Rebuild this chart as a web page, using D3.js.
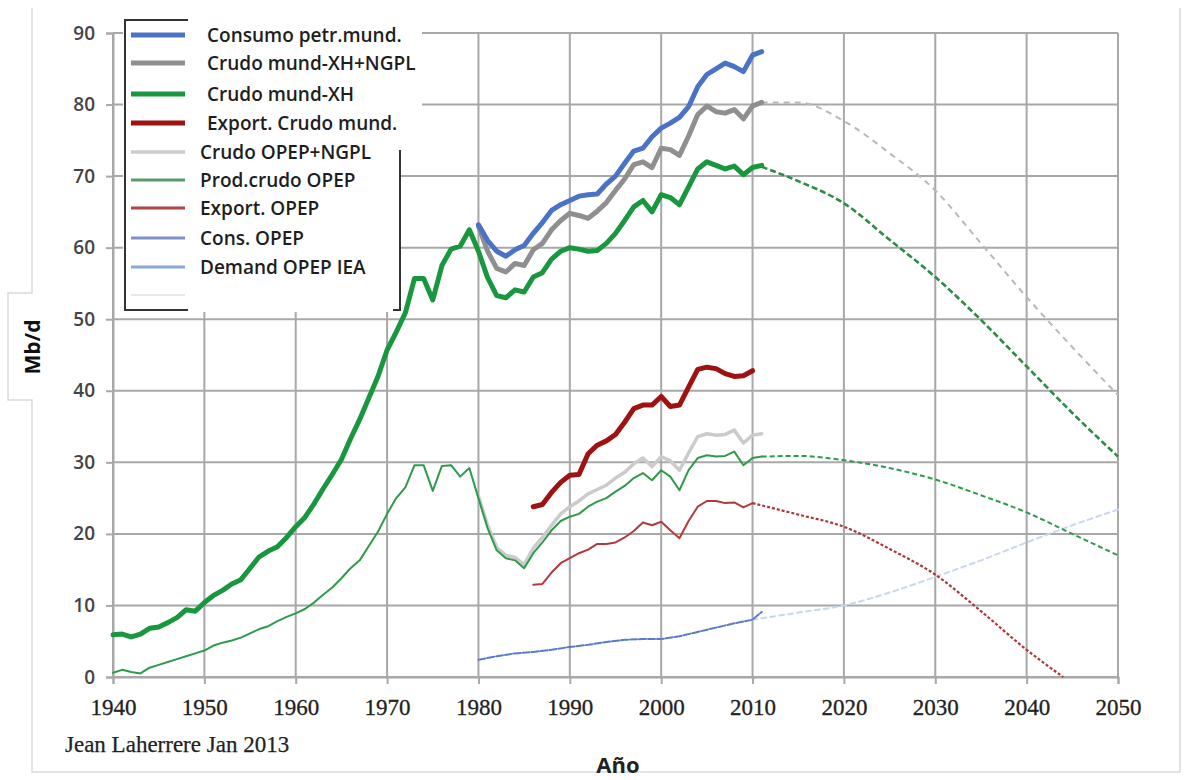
<!DOCTYPE html>
<html><head><meta charset="utf-8">
<script src="https://cdn.jsdelivr.net/npm/d3@7"></script>
<style>
html,body{margin:0;padding:0;background:#fff;}
svg{display:block;}
</style></head>
<body><svg id="c" width="1189" height="780"></svg>
<script>
// ---------- DATA ----------
const xTickYears = [1940,1950,1960,1970,1980,1990,2000,2010,2020,2030,2040,2050];
const yTickValues = [0,10,20,30,40,50,60,70,80,90];

const legendLabels = ["Consumo petr.mund.","Crudo mund-XH+NGPL","Crudo mund-XH","Export. Crudo mund.",
  "Crudo OPEP+NGPL","Prod.crudo OPEP","Export. OPEP","Cons. OPEP","Demand OPEP IEA",""];

const yearsMundXH = [1940,1941,1942,1943,1944,1945,1946,1947,1948,1949,1950,1951,1952,1953,1954,1955,1956,1957,1958,1959,1960,1961,1962,1963,1964,1965,1966,1967,1968,1969,1970,1971,1972,1973,1974,1975,1976,1977,1978,1979,1980,1981,1982,1983,1984,1985,1986,1987,1988,1989,1990,1991,1992,1993,1994,1995,1996,1997,1998,1999,2000,2001,2002,2003,2004,2005,2006,2007,2008,2009,2010,2011];
const valsMundXH = [5.9,6.0,5.6,6.0,6.8,7.0,7.6,8.3,9.4,9.2,10.4,11.4,12.1,13.0,13.6,15.2,16.8,17.6,18.2,19.5,21.0,22.3,24.2,26.3,28.3,30.4,33.3,36.0,39.0,42.0,45.7,48.2,50.9,55.7,55.7,52.7,57.5,59.8,60.2,62.5,59.5,55.8,53.3,53.0,54.1,53.8,55.9,56.5,58.4,59.5,60.0,59.8,59.5,59.6,60.6,62.0,63.8,65.7,66.6,65.0,67.4,67.0,66.0,68.5,71.0,72.0,71.5,71.0,71.4,70.2,71.2,71.5];

const yearsModern = [1980,1981,1982,1983,1984,1985,1986,1987,1988,1989,1990,1991,1992,1993,1994,1995,1996,1997,1998,1999,2000,2001,2002,2003,2004,2005,2006,2007,2008,2009,2010,2011];
const valsConsumo = [63.2,61.0,59.5,58.8,59.7,60.3,62.0,63.5,65.2,66.0,66.6,67.2,67.4,67.5,68.9,70.0,71.8,73.5,73.9,75.5,76.7,77.4,78.2,79.7,82.5,84.2,85.0,85.8,85.3,84.6,86.9,87.4];
const valsMundNGPL = [63.0,59.5,57.1,56.6,57.8,57.5,59.7,60.6,62.5,63.8,64.8,64.5,64.1,65.1,66.3,68.0,69.6,71.6,72.0,71.2,73.9,73.7,72.9,75.6,78.6,79.8,79.0,78.8,79.3,78.0,79.8,80.3];
const valsOpepNGPL = [25.3,21.2,18.1,17.0,16.7,15.7,18.0,19.5,21.2,22.8,23.8,24.6,25.6,26.2,26.8,27.8,28.6,29.8,30.6,29.4,30.8,30.2,28.9,31.3,33.6,34.0,33.8,33.9,34.5,32.7,33.8,34.0];

const yearsExport = [1986,1987,1988,1989,1990,1991,1992,1993,1994,1995,1996,1997,1998,1999,2000,2001,2002,2003,2004,2005,2006,2007,2008,2009,2010];
const valsExportMund = [23.8,24.1,25.8,27.2,28.2,28.3,31.2,32.4,33.0,33.9,35.6,37.5,38.0,38.0,39.2,37.8,38.0,40.5,43.0,43.3,43.1,42.4,42.0,42.1,42.8];
const valsExportOpep = [12.9,13.0,14.6,15.9,16.6,17.3,17.8,18.6,18.6,18.8,19.5,20.4,21.6,21.2,21.7,20.5,19.4,21.8,23.8,24.6,24.6,24.3,24.4,23.7,24.3];

const valsProdOpep = [0.6,1.0,0.7,0.5,1.3,1.7,2.1,2.5,2.9,3.3,3.7,4.4,4.8,5.1,5.5,6.1,6.7,7.1,7.8,8.4,8.9,9.5,10.4,11.5,12.5,13.8,15.2,16.3,18.3,20.3,22.8,25.0,26.5,29.6,29.6,26.0,29.5,29.6,28.0,29.2,25.0,20.8,17.7,16.6,16.3,15.2,17.3,18.8,20.5,21.8,22.4,22.8,23.8,24.5,25.0,25.9,26.7,27.8,28.5,27.5,28.9,28.0,26.1,28.9,30.6,31.0,30.8,30.9,31.5,29.6,30.6,30.8];

const yearsConsOpep = [1980,1982,1984,1986,1988,1990,1992,1994,1996,1998,2000,2002,2004,2006,2008,2010,2011];
const valsConsOpep = [2.4,2.9,3.3,3.5,3.8,4.2,4.5,4.9,5.2,5.3,5.3,5.7,6.3,6.9,7.5,8.0,9.1];

// projections
const yearsProj = [2011,2015,2020,2025,2030,2035,2040,2045,2050];
const projMundNGPL = [80.3,80.3,77.7,73.2,68.0,60.6,53.1,46.1,39.4];
const projMundXH = [71.3,69.3,66.2,61.1,55.9,49.9,43.4,36.9,30.8];
const projProdOpep = [30.8,30.9,30.3,29.2,27.6,25.4,23.0,20.0,17.0];
const yearsProjExport = [2010,2015,2020,2025,2030,2035,2040,2044];
const projExportOpep = [24.3,22.7,21.0,17.9,14.3,9.2,3.8,0];
const yearsDemand = [2010,2015,2020,2025,2030,2035,2040,2045,2050];
const valsDemand = [8.0,9.0,10.0,11.8,14.0,16.3,18.8,21.2,23.4];

// ---------- DRAW ----------
const svg = d3.select("#c");
const X0=113, X1=1118, Y0=677, Y1=33;
const x = d3.scaleLinear().domain([1940,2050]).range([X0,X1]);
const y = d3.scaleLinear().domain([0,90]).range([Y0,Y1]);

svg.append("rect").attr("width",1189).attr("height",780).attr("fill","#fff");

// outer frame with tab for y label
svg.append("path")
  .attr("d","M32,8 L32,293 L8,293 L8,400 L32,400 L32,772 L1180,772 L1180,8")
  .attr("fill","none").attr("stroke","#dadada").attr("stroke-width",1.5);

const gridColor="#a8a8a8";
// grid
svg.append("g").selectAll("line").data(yTickValues).join("line")
  .attr("x1",X0).attr("x2",X1).attr("y1",d=>y(d)).attr("y2",d=>y(d))
  .attr("stroke",gridColor).attr("stroke-width",2);
svg.append("g").selectAll("line").data(xTickYears).join("line")
  .attr("x1",d=>x(d)).attr("x2",d=>x(d)).attr("y1",Y1).attr("y2",Y0)
  .attr("stroke",gridColor).attr("stroke-width",2);

// axes
const axB = svg.append("g").attr("transform",`translate(0,${Y0})`)
  .call(d3.axisBottom(x).tickValues(xTickYears).tickFormat(d3.format("d")).tickSize(7).tickPadding(16));
axB.select(".domain").attr("stroke",gridColor).attr("stroke-width",2);
axB.selectAll(".tick line").attr("stroke",gridColor).attr("stroke-width",2);
axB.selectAll(".tick text").attr("font-family","'Liberation Serif',serif").attr("font-size",23)
  .attr("fill","#222").attr("stroke","#222").attr("stroke-width",0.3).attr("dy","0.72em").attr("y",21);

const axL = svg.append("g").attr("transform",`translate(${X0},0)`)
  .call(d3.axisLeft(y).tickValues(yTickValues).tickSize(7).tickPadding(11));
axL.select(".domain").attr("stroke",gridColor).attr("stroke-width",2);
axL.selectAll(".tick line").attr("stroke",gridColor).attr("stroke-width",2);
axL.selectAll(".tick text").attr("font-family","'Open Sans',sans-serif").attr("font-size",19)
  .attr("font-weight",600).attr("fill","#444").attr("x",-18);

// lines
const line = (xs,vs)=>d3.line().x((d,i)=>x(xs[i])).y(d=>y(d)).curve(d3.curveLinear)(vs);
const smooth = (xs,vs)=>d3.line().x((d,i)=>x(xs[i])).y(d=>y(d)).curve(d3.curveMonotoneX)(vs);

const C = {
  consumo:"#4a72c6", mundNGPL:"#8f8f8f", mundXH:"#18973f", exportMund:"#9e1212",
  opepNGPL:"#cbcbcb", prodOpep:"#2f9a4c", exportOpep:"#b23a3a", consOpep:"#5a7bcc", demand:"#9db8e2"
};

// legend background (drawn under the lines)
const lgBg = svg.append("g");
lgBg.append("path").attr("d","M123,16 L422,16 L422,140 L401,140 L401,312 L123,312 Z").attr("fill","#fff");

const g = svg.append("g").attr("fill","none").attr("stroke-linejoin","round").attr("stroke-linecap","round");

// projections (under)
g.append("path").attr("d",smooth(yearsDemand,valsDemand)).attr("stroke","#c9d7ef").attr("stroke-width",2).attr("stroke-dasharray","5,4");
g.append("path").attr("d",smooth(yearsProj,projMundNGPL)).attr("stroke","#b8b8b8").attr("stroke-width",2).attr("stroke-dasharray","6,5").attr("stroke-linecap","butt");
g.append("path").attr("d",smooth(yearsProj,projMundXH)).attr("stroke","#2e8a48").attr("stroke-width",2.6).attr("stroke-dasharray","6,3").attr("stroke-linecap","butt");
g.append("path").attr("d",smooth(yearsProj,projProdOpep)).attr("stroke","#2e9a4c").attr("stroke-width",2).attr("stroke-dasharray","5,3").attr("stroke-linecap","butt");
g.append("path").attr("d",smooth(yearsProjExport,projExportOpep)).attr("stroke","#b03535").attr("stroke-width",2.2).attr("stroke-dasharray","3,2").attr("stroke-linecap","butt");

// historical
g.append("path").attr("d",line(yearsConsOpep,valsConsOpep)).attr("stroke",C.consOpep).attr("stroke-width",2).attr("stroke-dasharray","7,2");
g.append("path").attr("d",line(yearsModern,valsOpepNGPL)).attr("stroke",C.opepNGPL).attr("stroke-width",3.5);
g.append("path").attr("d",line(yearsMundXH,valsProdOpep)).attr("stroke",C.prodOpep).attr("stroke-width",2);
g.append("path").attr("d",line(yearsExport,valsExportOpep)).attr("stroke",C.exportOpep).attr("stroke-width",2);
g.append("path").attr("d",line(yearsExport,valsExportMund)).attr("stroke",C.exportMund).attr("stroke-width",5);
g.append("path").attr("d",line(yearsMundXH,valsMundXH)).attr("stroke",C.mundXH).attr("stroke-width",5);
g.append("path").attr("d",line(yearsModern,valsMundNGPL)).attr("stroke",C.mundNGPL).attr("stroke-width",5);
g.append("path").attr("d",line(yearsModern,valsConsumo)).attr("stroke",C.consumo).attr("stroke-width",5);

// legend
const lg = svg.append("g");
lg.append("path").attr("d","M188,20 L125,20 L125,310 L188,310").attr("fill","none").attr("stroke","#333").attr("stroke-width",2);
lg.append("path").attr("d","M400,150 L400,310 L393,310").attr("fill","none").attr("stroke","#333").attr("stroke-width",2);
const legColors=[C.consumo,C.mundNGPL,C.mundXH,C.exportMund,C.opepNGPL,"#5a9a6a","#b04545","#7f8fcc","#88a8d8","#e8e8e8"];
const legWidths=[5,5,5,5,3.5,3,3,3,3,2];
const legY=[35,63,94,123,152,180,208,238,267,295];
const legTx=[207,207,207,207,200,200,200,200,200,200];
lg.selectAll("line").data(legendLabels).join("line")
  .attr("x1",131).attr("x2",185).attr("y1",(d,i)=>legY[i]).attr("y2",(d,i)=>legY[i])
  .attr("stroke",(d,i)=>legColors[i]).attr("stroke-width",(d,i)=>legWidths[i]);
lg.selectAll("text").data(legendLabels).join("text")
  .attr("x",(d,i)=>legTx[i]).attr("y",(d,i)=>legY[i]+6.5)
  .attr("font-family","'Open Sans',sans-serif").attr("font-size",19).attr("font-weight",600)
  .attr("fill","#1e1e1e").text(d=>d);

// titles
svg.append("text").attr("transform","translate(40,347) rotate(-90)").attr("text-anchor","middle")
  .attr("font-family","'Open Sans',sans-serif").attr("font-weight",700).attr("font-size",21).attr("fill","#111").text("Mb/d");
svg.append("text").attr("x",618).attr("y",773).attr("text-anchor","middle")
  .attr("font-family","'Open Sans',sans-serif").attr("font-weight",700).attr("font-size",22).attr("fill","#222").text("Año");
svg.append("text").attr("x",65).attr("y",752)
  .attr("font-family","'Liberation Serif',serif").attr("font-size",23).attr("fill","#222")
  .attr("stroke","#222").attr("stroke-width",0.25).text("Jean Laherrere Jan 2013");
</script></body></html>
